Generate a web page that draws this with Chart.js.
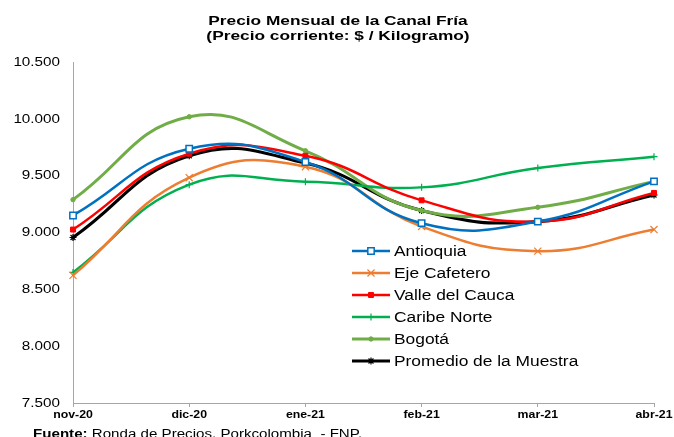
<!DOCTYPE html>
<html>
<head>
<meta charset="utf-8">
<script src="https://cdn.jsdelivr.net/npm/chart.js@4/dist/chart.umd.min.js"></script>
<style>
  html, body { margin: 0; padding: 0; background: #fff; }
  #wrap { width: 674px; height: 437px; position: relative; }
</style>
</head>
<body>
<div id="wrap"><canvas id="c" width="674" height="437"></canvas></div>
<script>
const categories = ["nov-20", "dic-20", "ene-21", "feb-21", "mar-21", "abr-21"];
const antioquia   = [9150, 9737, 9620, 9082, 9096, 9450];
const ejeCafetero = [8623, 9482, 9579, 9053, 8836, 9026];
const valleCauca  = [9026, 9693, 9675, 9283, 9096, 9348];
const caribeNorte = [8649, 9421, 9447, 9397, 9567, 9667];
const bogota      = [9289, 10018, 9719, 9193, 9222, 9450];
const promedio    = [8956, 9675, 9611, 9193, 9096, 9330];
const seriesNames = ["Antioquia", "Eje Cafetero", "Valle del Cauca", "Caribe Norte", "Bogotá", "Promedio de la Muestra"];
const titleLines = ["Precio Mensual de la Canal Fría", "(Precio corriente: $ / Kilogramo)"];
const sourceLabel = "Fuente:";
const sourceText = " Ronda de Precios, Porkcolombia  - FNP.";

const FONT = "'Liberation Sans', Arial, sans-serif";

const styles = [
  { color: '#0070C0', pointStyle: 'rect', radius: 4.5, bg: '#FFFFFF', bw: 1.5, lw: 2.5 },
  { color: '#ED7D31', pointStyle: 'crossRot', radius: 5, bg: '#ED7D31', bw: 1.2, lw: 2.5 },
  { color: '#FF0000', pointStyle: 'rect', radius: 3.5, bg: '#FF0000', bw: 1, lw: 2.5 },
  { color: '#00B050', pointStyle: 'cross', radius: 3.5, bg: '#00B050', bw: 1.2, lw: 2.5 },
  { color: '#70AD47', pointStyle: 'circle', radius: 2.2, bg: '#70AD47', bw: 1, lw: 3 },
  { color: '#000000', pointStyle: 'star', radius: 3.5, bg: '#000000', bw: 1.2, lw: 3.2 }
];
const seriesData = [antioquia, ejeCafetero, valleCauca, caribeNorte, bogota, promedio];

const datasets = seriesData.map((d, i) => ({
  label: seriesNames[i],
  data: d,
  borderColor: styles[i].color,
  backgroundColor: styles[i].bg,
  borderWidth: styles[i].lw,
  pointStyle: styles[i].pointStyle,
  pointRadius: styles[i].radius,
  pointBorderWidth: styles[i].bw,
  pointBorderColor: styles[i].color,
  pointBackgroundColor: styles[i].bg,
  tension: 0.45,
  fill: false
}));

function stretchText(ctx, text, x, y, align, sx) {
  ctx.save();
  ctx.translate(x, y);
  ctx.scale(sx, 1);
  ctx.textAlign = align;
  ctx.fillText(text, 0, 0);
  ctx.restore();
}

const fmt = v => String(v).replace(/\B(?=(\d{3})+(?!\d))/g, '.');

const decor = {
  id: 'decor',
  afterDraw(chart) {
    const ctx = chart.ctx;
    ctx.save();
    ctx.fillStyle = '#000';
    // Title
    ctx.font = "bold 13px " + FONT;
    ctx.textBaseline = 'middle';
    stretchText(ctx, titleLines[0], 338, 21, 'center', 1.33);
    stretchText(ctx, titleLines[1], 338, 36, 'center', 1.33);
    // Y tick labels
    const ys = chart.scales.y;
    ctx.font = "12px " + FONT;
    ys.ticks.forEach((t, i) => {
      stretchText(ctx, fmt(t.value), 60, ys.getPixelForTick(i) + 0.5, 'right', 1.27);
    });
    // X tick labels
    const xs = chart.scales.x;
    ctx.font = "bold 11px " + FONT;
    xs.ticks.forEach((t, i) => {
      stretchText(ctx, categories[t.value], xs.getPixelForTick(i), 415, 'center', 1.12);
    });
    // Legend
    const lx = 352, tx = 394;
    const ly = [251, 273, 295, 317, 339, 361];
    ctx.font = "14px " + FONT;
    styles.forEach((s, i) => {
      const y = ly[i];
      ctx.strokeStyle = s.color;
      ctx.lineWidth = s.lw;
      ctx.beginPath();
      ctx.moveTo(lx, y);
      ctx.lineTo(lx + 38, y);
      ctx.stroke();
      ctx.fillStyle = s.bg;
      ctx.lineWidth = s.bw;
      Chart.helpers.drawPoint(ctx, { pointStyle: s.pointStyle, radius: s.radius, borderWidth: s.bw, rotation: 0 }, lx + 19, y);
      ctx.fillStyle = '#000';
      stretchText(ctx, seriesNames[i], tx, y + 1, 'left', 1.24);
    });
    // Source
    ctx.textBaseline = 'alphabetic';
    ctx.font = "bold 12px " + FONT;
    ctx.fillStyle = '#000';
    const sxs = 1.26;
    stretchText(ctx, sourceLabel, 33, 438, 'left', sxs);
    const w = ctx.measureText(sourceLabel).width * sxs;
    ctx.font = "12px " + FONT;
    stretchText(ctx, sourceText, 33 + w, 438, 'left', sxs);
    ctx.restore();
  }
};

new Chart(document.getElementById('c'), {
  type: 'line',
  data: { labels: categories, datasets },
  plugins: [decor],
  options: {
    responsive: false,
    animation: false,
    devicePixelRatio: 1,
    layout: { padding: { top: 62, right: 20, bottom: 14, left: 0 } },
    plugins: { legend: { display: false }, title: { display: false }, tooltip: { enabled: false } },
    scales: {
      x: {
        offset: false,
        afterFit: s => { s.height = 20; },
        grid: { drawOnChartArea: false, color: '#A6A6A6', tickLength: 4, tickColor: '#A6A6A6' },
        border: { color: '#A6A6A6', width: 1 },
        ticks: { display: false, autoSkip: false, maxRotation: 0 }
      },
      y: {
        min: 7500, max: 10500,
        afterFit: s => { s.width = 73; },
        grid: { display: false },
        border: { color: '#A6A6A6', width: 1 },
        ticks: { display: false, stepSize: 500 }
      }
    }
  }
});
</script>
</body>
</html>
